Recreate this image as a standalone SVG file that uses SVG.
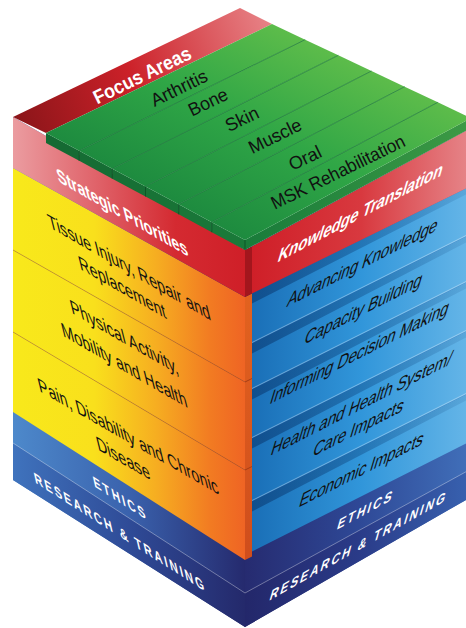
<svg xmlns="http://www.w3.org/2000/svg" width="466" height="628" viewBox="0 0 466 628">
<defs>
<style>
text{font-family:"Liberation Sans",Arial,sans-serif;text-anchor:middle;fill:#111;font-size:17px}
.w{fill:#fff;font-weight:bold}
.s{font-size:16px}
.b{fill:#fff;font-weight:bold;font-size:13.5px;letter-spacing:2.4px}
.ol{stroke:#b4561a;stroke-opacity:.45;stroke-width:1;fill:none}
.hl{stroke:#fff;stroke-opacity:.35;stroke-width:1;fill:none}
.gd{stroke:#147034;stroke-opacity:.7;stroke-width:1;fill:none}
.gn{stroke:#0d5427;stroke-width:1;fill:none}
.sh{fill:url(#gShadow)}
</style>
<linearGradient id="gFocus" gradientUnits="userSpaceOnUse" x1="13" y1="117" x2="272" y2="16"><stop offset="0" stop-color="#8a1519"/><stop offset=".45" stop-color="#cc2129"/><stop offset="1" stop-color="#e88589"/></linearGradient>
<linearGradient id="gRedL" gradientUnits="userSpaceOnUse" x1="13" y1="0" x2="245" y2="0"><stop offset="0" stop-color="#eb9ca0"/><stop offset=".35" stop-color="#e0646b"/><stop offset=".7" stop-color="#d42a31"/><stop offset="1" stop-color="#cf1f28"/></linearGradient>
<linearGradient id="gRedR" gradientUnits="userSpaceOnUse" x1="252" y1="0" x2="471" y2="0"><stop offset="0" stop-color="#cf1f28"/><stop offset=".5" stop-color="#d8393f"/><stop offset="1" stop-color="#e6868a"/></linearGradient>
<linearGradient id="gOrange" gradientUnits="userSpaceOnUse" x1="13" y1="0" x2="245" y2="0"><stop offset="0" stop-color="#f8e91b"/><stop offset=".35" stop-color="#f9e01c"/><stop offset=".62" stop-color="#f6ad21"/><stop offset=".85" stop-color="#f27b22"/><stop offset="1" stop-color="#ef6424"/></linearGradient>
<linearGradient id="gBlue" gradientUnits="userSpaceOnUse" x1="252" y1="0" x2="471" y2="0"><stop offset="0" stop-color="#1a6fb7"/><stop offset=".5" stop-color="#3196da"/><stop offset="1" stop-color="#66b6e8"/></linearGradient>
<linearGradient id="gEthL" gradientUnits="userSpaceOnUse" x1="13" y1="0" x2="245" y2="0"><stop offset="0" stop-color="#4d89cb"/><stop offset=".5" stop-color="#3a62ad"/><stop offset="1" stop-color="#252a6e"/></linearGradient>
<linearGradient id="gResL" gradientUnits="userSpaceOnUse" x1="13" y1="0" x2="245" y2="0"><stop offset="0" stop-color="#3f73bd"/><stop offset=".5" stop-color="#2f4b97"/><stop offset="1" stop-color="#24296b"/></linearGradient>
<linearGradient id="gEthR" gradientUnits="userSpaceOnUse" x1="245" y1="0" x2="471" y2="0"><stop offset="0" stop-color="#262b70"/><stop offset=".5" stop-color="#2e4896"/><stop offset="1" stop-color="#4170ba"/></linearGradient>
<linearGradient id="gResR" gradientUnits="userSpaceOnUse" x1="245" y1="0" x2="471" y2="0"><stop offset="0" stop-color="#23276a"/><stop offset=".5" stop-color="#2a3b88"/><stop offset="1" stop-color="#3862b0"/></linearGradient>
<linearGradient id="gStripe" x1="0" y1="1" x2="1" y2="0"><stop offset="0" stop-color="#1b873e"/><stop offset=".5" stop-color="#2fa646"/><stop offset="1" stop-color="#63bf4b"/></linearGradient>
<linearGradient id="gGFront" gradientUnits="userSpaceOnUse" x1="46" y1="0" x2="471" y2="0"><stop offset="0" stop-color="#146832"/><stop offset=".5" stop-color="#1b7d3b"/><stop offset="1" stop-color="#3d9a45"/></linearGradient>
<linearGradient id="gShadow" x1="0" y1="0" x2="1" y2="0"><stop offset="0" stop-color="#0a3a72" stop-opacity=".6"/><stop offset="1" stop-color="#0a3a72" stop-opacity=".1"/></linearGradient>
<linearGradient id="gStrip" x1="0" y1="0" x2="0" y2="1"><stop offset="0" stop-color="#e2621f"/><stop offset="1" stop-color="#cf4d1c"/></linearGradient>
</defs>

<g id="base-research-training">
<polygon points="13,117 245,250 245,627 13,480" fill="url(#gEthL)"/>
<polygon points="245,250 471,128 471,497 245,627" fill="url(#gEthR)"/>
<polygon points="13,443 245,593 245,627 13,480" fill="url(#gResL)"/>
<polygon points="245,593 471,469 471,497 245,627" fill="url(#gResR)"/>
<polyline class="hl" points="13,443 245,593 471,469"/>
<text class="b" transform="matrix(0.842 0.539 0.27 1.15 120 532)" y="5">RESEARCH &amp; TRAINING</text>
<text class="b" transform="matrix(0.87 -0.492 -0.33 1.15 359 545)" y="5">RESEARCH &amp; TRAINING</text>
</g>
<g id="base-ethics">
<text class="b" transform="matrix(0.842 0.539 0.27 1.15 120 498)" y="5">ETHICS</text>
<text class="b" transform="matrix(0.879 -0.477 -0.33 1.15 366 509)" y="5">ETHICS</text>
</g>

<g id="sp-tissue">
<polygon points="13,168 245,297 245,382 13,250" fill="url(#gOrange)"/>
<text transform="matrix(0.866 0.5 0.3 1.2 129 267)" y="6">Tissue Injury, Repair and</text>
<text transform="matrix(0.866 0.5 0.3 1.2 122 287)" y="6">Replacement</text>
</g>
<g id="sp-physical">
<polygon points="13,250 245,382 245,470 13,332" fill="url(#gOrange)"/>
<line class="ol" x1="13" y1="250" x2="245" y2="382"/>
<text transform="matrix(0.866 0.5 0.3 1.2 124 337)" y="6">Physical Activity,</text>
<text transform="matrix(0.866 0.5 0.3 1.2 124 365)" y="6">Mobility and Health</text>
</g>
<g id="sp-pain">
<polygon points="13,332 245,470 245,560 13,412" fill="url(#gOrange)"/>
<line class="ol" x1="13" y1="332" x2="245" y2="470"/>
<text transform="matrix(0.866 0.5 0.3 1.2 128 436)" y="6">Pain, Disability and Chronic</text>
<text transform="matrix(0.866 0.5 0.3 1.2 123 458)" y="6">Disease</text>
</g>
<g id="core-edge">
<polygon points="245,297 252,293.5 252,556.5 245,560" fill="url(#gStrip)"/>
<line x1="245" y1="382" x2="252" y2="378.5" stroke="#a63c14"/>
<line x1="245" y1="470" x2="252" y2="466.5" stroke="#a63c14"/>
<polygon points="245,250 252,246.5 252,293.5 245,297" fill="#a3161d"/>
</g>

<g id="kt-advancing">
<polygon points="252,293.5 471,186 471,234 252,343.5" fill="url(#gBlue)"/>
<polygon class="sh" points="252,293.5 471,186 471,192 252,303.5"/>
<text transform="matrix(0.891 -0.454 -0.36 1.2 363 262)" y="6">Advancing Knowledge</text>
</g>
<g id="kt-capacity">
<polygon points="252,343.5 471,234 471,280 252,389.5" fill="url(#gBlue)"/>
<polygon class="sh" points="252,343.5 471,234 471,240 252,353.5"/>
<line class="hl" x1="252" y1="342.5" x2="471" y2="233"/>
<text transform="matrix(0.891 -0.454 -0.36 1.2 364 308)" y="6">Capacity Building</text>
</g>
<g id="kt-informing">
<polygon points="252,389.5 471,280 471,329 252,438.5" fill="url(#gBlue)"/>
<polygon class="sh" points="252,389.5 471,280 471,286 252,399.5"/>
<line class="hl" x1="252" y1="388.5" x2="471" y2="279"/>
<text transform="matrix(0.891 -0.454 -0.36 1.2 360 352)" y="6">Informing Decision Making</text>
</g>
<g id="kt-health">
<polygon points="252,438.5 471,329 471,392 252,501.5" fill="url(#gBlue)"/>
<polygon class="sh" points="252,438.5 471,329 471,335 252,448.5"/>
<line class="hl" x1="252" y1="437.5" x2="471" y2="328"/>
<text transform="matrix(0.891 -0.454 -0.36 1.2 362 403)" y="6">Health and Health System/</text>
<text transform="matrix(0.891 -0.454 -0.36 1.2 359 427)" y="6">Care Impacts</text>
</g>
<g id="kt-economic">
<polygon points="252,501.5 471,392 471,441 252,551.5" fill="url(#gBlue)"/>
<polygon class="sh" points="252,501.5 471,392 471,398 252,511.5"/>
<line class="hl" x1="252" y1="500.5" x2="471" y2="391"/>
<text transform="matrix(0.891 -0.454 -0.36 1.2 362 469)" y="6">Economic Impacts</text>
</g>

<g id="strategic-priorities">
<polygon points="13,117 245,250 245,297 13,168" fill="url(#gRedL)"/>
<text class="w" transform="matrix(0.866 0.5 0.3 1.2 122 212)" y="6">Strategic Priorities</text>
</g>
<g id="knowledge-translation">
<polygon points="252,246.5 471,128 471,186 252,293.5" fill="url(#gRedR)"/>
<text class="w" transform="matrix(0.883 -0.469 -0.36 1.2 361 212)" y="6">Knowledge Translation</text>
</g>

<g id="focus-areas">
<polygon points="13,117 240,8 272,24 46,133" fill="url(#gFocus)"/>
<text class="w" transform="translate(142,75) rotate(-26) scale(1.05 1.15)" y="6">Focus Areas</text>
</g>

<g id="green-slab">
<polygon points="245,240 471,118 471,128 245,250" fill="url(#gGFront)"/>
<polygon points="46,133 79.2,150.8 79.2,160.8 46,143" fill="#156a33"/>
<polygon points="79.2,150.8 112.3,168.7 112.3,178.7 79.2,160.8" fill="#166d34"/>
<polygon points="112.3,168.7 145.5,186.5 145.5,196.5 112.3,178.7" fill="#177035"/>
<polygon points="145.5,186.5 178.7,204.3 178.7,214.3 145.5,196.5" fill="#187336"/>
<polygon points="178.7,204.3 211.8,222.2 211.8,232.2 178.7,214.3" fill="#197638"/>
<polygon points="211.8,222.2 245,240 245,250 211.8,232.2" fill="#1a7939"/>
<line class="gn" x1="79.2" y1="150.8" x2="79.2" y2="160.8"/>
<line class="gn" x1="112.3" y1="168.7" x2="112.3" y2="178.7"/>
<line class="gn" x1="145.5" y1="186.5" x2="145.5" y2="196.5"/>
<line class="gn" x1="178.7" y1="204.3" x2="178.7" y2="214.3"/>
<line class="gn" x1="211.8" y1="222.2" x2="211.8" y2="232.2"/>
<line class="gn" x1="245" y1="240" x2="245" y2="250"/>
</g>
<g id="fa-arthritis">
<polygon points="46,133 272,24 305.2,39.7 79.2,150.8" fill="url(#gStripe)"/>
<text class="s" transform="translate(179,88) rotate(-26) scale(1.12 1.15)" y="5.5">Arthritis</text>
</g>
<g id="fa-bone">
<polygon points="79.2,150.8 305.2,39.7 338.3,55.3 112.3,168.7" fill="url(#gStripe)"/>
<line class="gd" x1="79.2" y1="150.8" x2="305.2" y2="39.7"/>
<text class="s" transform="translate(208,102) rotate(-26) scale(1.12 1.15)" y="5.5">Bone</text>
</g>
<g id="fa-skin">
<polygon points="112.3,168.7 338.3,55.3 371.5,71 145.5,186.5" fill="url(#gStripe)"/>
<line class="gd" x1="112.3" y1="168.7" x2="338.3" y2="55.3"/>
<text class="s" transform="translate(242,119) rotate(-26) scale(1.12 1.15)" y="5.5">Skin</text>
</g>
<g id="fa-muscle">
<polygon points="145.5,186.5 371.5,71 404.7,86.7 178.7,204.3" fill="url(#gStripe)"/>
<line class="gd" x1="145.5" y1="186.5" x2="371.5" y2="71"/>
<text class="s" transform="translate(275,136) rotate(-26) scale(1.12 1.15)" y="5.5">Muscle</text>
</g>
<g id="fa-oral">
<polygon points="178.7,204.3 404.7,86.7 437.8,102.3 211.8,222.2" fill="url(#gStripe)"/>
<line class="gd" x1="178.7" y1="204.3" x2="404.7" y2="86.7"/>
<text class="s" transform="translate(305,158) rotate(-26) scale(1.12 1.15)" y="5.5">Oral</text>
</g>
<g id="fa-msk">
<polygon points="211.8,222.2 437.8,102.3 471,118 245,240" fill="url(#gStripe)"/>
<line class="gd" x1="211.8" y1="222.2" x2="437.8" y2="102.3"/>
<text class="s" transform="translate(338,172) rotate(-26) scale(1.08 1.15)" y="5.5">MSK Rehabilitation</text>
</g>
<g id="connectors"/>
</svg>
